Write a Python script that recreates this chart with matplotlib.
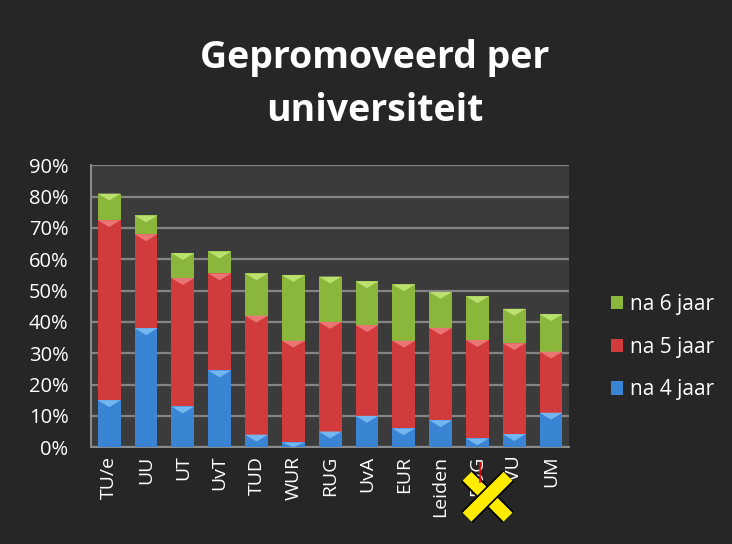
import matplotlib
matplotlib.use("Agg")
import matplotlib.pyplot as plt
import matplotlib.patheffects as pe
from matplotlib.lines import Line2D
from matplotlib.patches import Polygon
import numpy as np

plt.rcParams['font.family'] = ['Open Sans', 'DejaVu Sans']

universities = ["TU/e", "UU", "UT", "UvT", "TUD", "WUR", "RUG", "UvA", "EUR",
                "Leiden", "RUG", "VU", "UM"]
na_4_jaar = [15, 38, 13, 24.5, 4, 1.5, 5, 10, 6, 8.6, 2.8, 4.2, 11]
na_5_jaar = [57.5, 30, 41, 31, 38, 32.5, 35, 29, 28, 29.5, 31.4, 29, 19.5]
na_6_jaar = [8.5, 6, 8, 7, 13.5, 21, 14.5, 14, 18, 11.5, 14, 11, 12]
yticks = [0, 10, 20, 30, 40, 50, 60, 70, 80, 90]
ytick_labels = [f"{t}%" for t in yticks]
title = "Gepromoveerd per\nuniversiteit"

fig_bg = "#262626"
ax_bg = "#3b3b3b"
c_blue, c_red, c_green = "#3a84d4", "#d23b3b", "#8ab63c"
l_blue, l_red, l_green = "#7fc0f5", "#f08080", "#c5e878"

fig = plt.figure(figsize=(7.32, 5.44), dpi=100, facecolor=fig_bg)
ax = fig.add_axes([0.124, 0.178, 0.654, 0.518])
ax.set_facecolor(ax_bg)

x = np.arange(len(universities))
w = 0.62
b4 = ax.bar(x, na_4_jaar, w, color=c_blue, label="na 4 jaar", zorder=3)
bottom5 = np.array(na_4_jaar)
b5 = ax.bar(x, na_5_jaar, w, bottom=bottom5, color=c_red, label="na 5 jaar", zorder=3)
bottom6 = bottom5 + np.array(na_5_jaar)
b6 = ax.bar(x, na_6_jaar, w, bottom=bottom6, color=c_green, label="na 6 jaar", zorder=3)

# bevel chevrons at the top of each segment
for bars, light in ((b4, l_blue), (b5, l_red), (b6, l_green)):
    for p in bars:
        x0 = p.get_x(); x1 = x0 + p.get_width(); top = p.get_y() + p.get_height()
        h = min(2.2, p.get_height())
        poly = Polygon([(x0, top), (x1, top), ((x0 + x1) / 2, top - h)],
                       closed=True, facecolor=light, edgecolor="none", alpha=0.85, zorder=4)
        ax.add_patch(poly)

ax.set_xlim(-0.5, len(universities) - 0.5)
ax.set_ylim(0, 90)
ax.set_yticks(yticks)
ax.set_yticklabels(ytick_labels)
ax.set_xticks(x)
ax.set_xticklabels(universities, rotation=90)
ax.tick_params(axis="both", colors="white", labelsize=14, length=0, pad=6)
ax.tick_params(axis="y", labelsize=14.5, pad=16)
ax.yaxis.grid(True, color="#858585", linewidth=1.6, zorder=0)
ax.set_axisbelow(True)
for s in ("top", "right"):
    ax.spines[s].set_visible(False)
for s in ("left", "bottom"):
    ax.spines[s].set_color("#8a8a8a")
    ax.spines[s].set_linewidth(1.5)

fig.text(0.512, 0.845, title, ha="center", va="center", color="white",
         fontsize=27, fontweight="bold", linespacing=1.5)

handles = [b6, b5, b4]
leg = fig.legend(handles, [h.get_label() for h in handles], loc="center left",
                 bbox_to_anchor=(0.809, 0.362), frameon=False, fontsize=15,
                 labelcolor="white", handlelength=0.6, handleheight=0.6,
                 handletextpad=0.3, labelspacing=1.05)

# yellow cross overlay
cx, cy, d = 0.666, 0.087, 0.028
for dx in (-1, 1):
    ln = Line2D([cx - d, cx + d], [cy - d * 1.345 * dx, cy + d * 1.345 * dx],
                transform=fig.transFigure, color="#ffec00", linewidth=9,
                solid_capstyle="butt",
                path_effects=[pe.Stroke(linewidth=11.5, foreground="black"), pe.Normal()])
    fig.add_artist(ln)
fig.add_artist(Line2D([0.6555, 0.6555], [0.114, 0.148], transform=fig.transFigure,
                      color="red", linewidth=1.2))

fig.savefig("out.png", dpi=100, facecolor=fig_bg)
